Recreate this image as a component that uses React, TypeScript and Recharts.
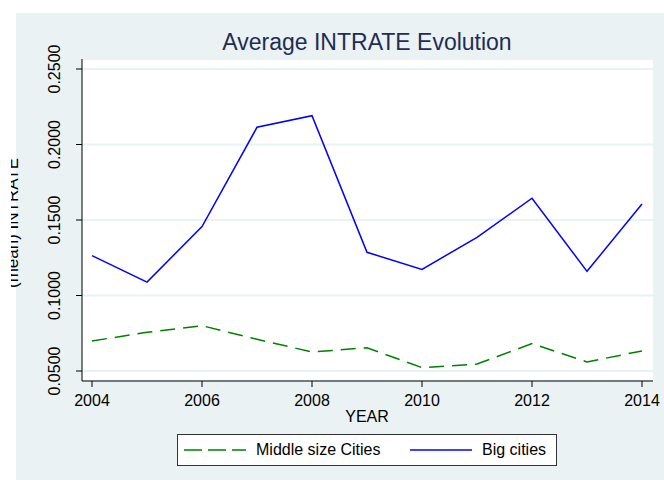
import { LineChart, Line, XAxis, YAxis, CartesianGrid, Legend } from 'recharts';

const years = [2004, 2005, 2006, 2007, 2008, 2009, 2010, 2011, 2012, 2013, 2014];
const middleCities = [0.0699, 0.0756, 0.08, 0.071, 0.0626, 0.0654, 0.0522, 0.0546, 0.0681, 0.056, 0.0633];
const bigCities = [0.1264, 0.1089, 0.1456, 0.2114, 0.2191, 0.1286, 0.1173, 0.1385, 0.1644, 0.116, 0.1606];
const seriesNames = ['Middle size Cities', 'Big cities'];
const xTicks = [2004, 2006, 2008, 2010, 2012, 2014];
const yTicks = [0.05, 0.1, 0.15, 0.2, 0.25];

const FONT = '"Liberation Sans", Arial, sans-serif';

const rows = years.map((year, i) => ({ year, mid: middleCities[i], big: bigCities[i] }));

// y tick labels are written vertically, like Stata does
const YTick = (props: any) => {
  const { x, y, payload } = props;
  return (
    <text
      x={x}
      y={y}
      transform={`rotate(-90, ${x}, ${y})`}
      textAnchor="middle"
      fontSize={16}
      fontFamily={FONT}
      fill="#000"
    >
      {Number(payload.value).toFixed(4)}
    </text>
  );
};

const renderLegend = (props: any) => {
  // keep the order of the original legend (recharts sorts by name)
  const items = [...(props.payload || [])].sort(
    (a: any, b: any) => seriesNames.indexOf(a.value) - seriesNames.indexOf(b.value)
  );
  return (
    <div
      style={{
        width: 380,
        height: 32,
        boxSizing: 'border-box',
        border: '1px solid #333',
        background: '#fff',
        position: 'relative',
        fontFamily: FONT,
        fontSize: 16,
        color: '#000',
      }}
    >
      {items.map((entry: any, i: number) => {
        const left = i === 0 ? 6 : 232;
        const dash = entry.payload?.strokeDasharray;
        return (
          <div
            key={entry.value}
            style={{ position: 'absolute', left, top: 0, height: 30, display: 'flex', alignItems: 'center', whiteSpace: 'nowrap' }}
          >
            <svg width={62} height={10} style={{ marginRight: 10 }}>
              <line x1={0} y1={5} x2={62} y2={5} stroke={entry.color} strokeWidth={1.5} strokeDasharray={dash ? '18 6' : undefined} />
            </svg>
            <span>{entry.value}</span>
          </div>
        );
      })}
    </div>
  );
};

export default function App() {
  return (
    <div style={{ position: 'relative', width: 664, height: 480, background: '#fff', overflow: 'hidden' }}>
      <style>{'body{margin:0}'}</style>
      <div style={{ position: 'absolute', left: 16, top: 13, width: 648, height: 467, background: '#EAF2F3' }} />
      <div style={{ position: 'absolute', left: 0, top: 0 }}>
        <LineChart width={664} height={480} data={rows} margin={{ top: 59, right: 11, bottom: 69, left: 22 }}>
          <CartesianGrid vertical={false} fill="#fff" stroke="#EAF2F3" strokeWidth={2} />
          <XAxis
            dataKey="year"
            type="number"
            domain={[2004, 2014]}
            ticks={xTicks}
            padding={{ left: 10, right: 11 }}
            height={30}
            tickSize={6}
            tickMargin={8}
            stroke="#000"
            tick={{ fontSize: 16, fontFamily: FONT, fill: '#000' }}
          />
          <YAxis
            type="number"
            domain={[0.05, 0.25]}
            ticks={yTicks}
            padding={{ top: 10, bottom: 10 }}
            width={60}
            tickSize={6}
            tickMargin={16}
            stroke="#000"
            tick={<YTick />}
          />
          <Line
            type="linear"
            dataKey="mid"
            name={seriesNames[0]}
            stroke="#008000"
            strokeWidth={1.5}
            strokeDasharray="15 8"
            dot={false}
            isAnimationActive={false}
          />
          <Line
            type="linear"
            dataKey="big"
            name={seriesNames[1]}
            stroke="#0000ff"
            strokeWidth={1.5}
            dot={false}
            isAnimationActive={false}
          />
          <Legend
            layout="horizontal"
            verticalAlign="middle"
            align="center"
            content={renderLegend}
            wrapperStyle={{ left: 177, top: 434, width: 380, height: 32 }}
          />
        </LineChart>
      </div>
      <svg width={664} height={480} style={{ position: 'absolute', left: 0, top: 0, pointerEvents: 'none' }}>
        <defs>
          <clipPath id="ylabClip">
            <rect x={11} y={0} width={20} height={480} />
          </clipPath>
        </defs>
        <text x={367} y={50} textAnchor="middle" fontSize={23} fontFamily={FONT} fill="#1E2D56">
          Average INTRATE Evolution
        </text>
        <text x={367} y={422} textAnchor="middle" fontSize={16} fontFamily={FONT} fill="#000">
          YEAR
        </text>
        <g clipPath="url(#ylabClip)">
          <text
            x={17.5}
            y={223}
            transform="rotate(-90, 17.5, 223)"
            textAnchor="middle"
            fontSize={17}
            fontFamily={FONT}
            fill="#000"
          >
            (mean) INTRATE
          </text>
        </g>
      </svg>
    </div>
  );
}
